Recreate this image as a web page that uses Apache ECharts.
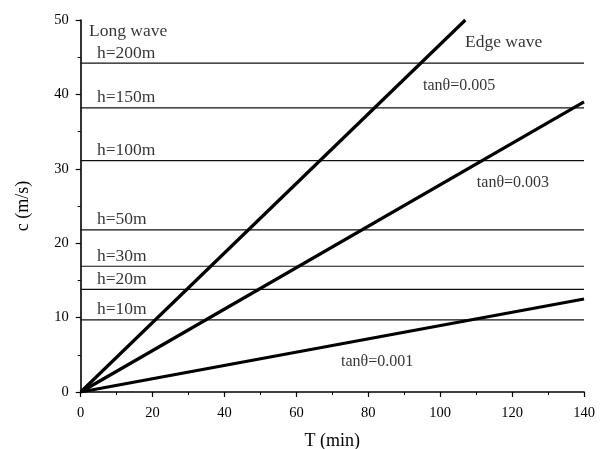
<!DOCTYPE html>
<html>
<head>
<meta charset="utf-8">
<script src="https://cdn.jsdelivr.net/npm/echarts@6/dist/echarts.min.js"></script>
<style>
  html, body { margin: 0; padding: 0; background: #fff; }
  #chart { width: 605px; height: 449px; }
</style>
</head>
<body>
<div id="chart"></div>
<script>
// Long-wave phase speed for each water depth (m/s)
const depthLabels = ['h=200m', 'h=150m', 'h=100m', 'h=50m', 'h=30m', 'h=20m', 'h=10m'];
const longWaveSpeeds = [44.2, 38.2, 31.1, 21.8, 16.9, 13.8, 9.7];

// Edge-wave speed grows linearly with period T; each line runs from the origin to its end point
const slopeLabels = ['tanθ=0.005', 'tanθ=0.003', 'tanθ=0.001'];
const edgeEndT = [107, 140, 140];
const edgeEndC = [50, 39.0, 12.5];

const T_MIN = 0, T_MAX = 140;
const FONT = 'Liberation Serif';

const series = [];

// horizontal long-wave lines
longWaveSpeeds.forEach((c, i) => {
  series.push({
    type: 'line',
    name: depthLabels[i],
    data: [[T_MIN, c], [T_MAX, c]],
    symbol: 'none',
    lineStyle: { color: '#111', width: 1.2 },
    silent: true
  });
});

// depth labels sitting just above each line
series.push({
  type: 'scatter',
  symbolSize: 0,
  silent: true,
  data: longWaveSpeeds.map((c, i) => ({ value: [4.5, c], name: depthLabels[i] })),
  label: {
    show: true,
    position: [0, 0],
    align: 'left',
    verticalAlign: 'middle',
    offset: [0, -10],
    formatter: p => p.name,
    color: '#000',
    fontFamily: FONT,
    fontSize: 17.5
  }
});

// edge-wave lines
edgeEndT.forEach((t, i) => {
  series.push({
    type: 'line',
    name: slopeLabels[i],
    data: [[0, 0], [t, edgeEndC[i]]],
    symbol: 'none',
    lineStyle: { color: '#000', width: 3.2 },
    silent: true
  });
});

// free text annotations (data coordinates)
const notes = [
  { value: [2.3, 48.5], name: 'Long wave' },
  { value: [106.9, 47.0], name: 'Edge wave' },
  { value: [95.2, 41.1], name: slopeLabels[0], small: true },
  { value: [110.2, 28.1], name: slopeLabels[1], small: true },
  { value: [72.4, 4.0], name: slopeLabels[2], small: true }
];
series.push({
  type: 'scatter',
  symbolSize: 0,
  silent: true,
  data: notes.map(n => ({
    value: n.value,
    name: n.name,
    label: { fontSize: n.small ? 16 : 17.5 }
  })),
  label: {
    show: true,
    position: [0, 0],
    align: 'left',
    verticalAlign: 'middle',
    formatter: p => p.name,
    color: '#000',
    fontFamily: FONT
  }
});

const axisCommon = {
  axisLine: { show: true, lineStyle: { color: '#000', width: 1.6 } },
  axisTick: { show: true, inside: false, length: 5, lineStyle: { color: '#000', width: 1.2 } },
  minorTick: { show: true, splitNumber: 2, length: 3, lineStyle: { color: '#000', width: 1 } },
  splitLine: { show: false },
  axisLabel: { color: '#000', fontFamily: FONT, fontSize: 14.5 }
};

const chart = echarts.init(document.getElementById('chart'), null, { renderer: 'canvas' });
chart.setOption({
  animation: false,
  backgroundColor: '#fff',
  grid: { left: 80.7, right: 21, top: 20, bottom: 57, containLabel: false, outerBoundsMode: 'none' },
  xAxis: Object.assign({}, axisCommon, {
    type: 'value',
    min: T_MIN, max: T_MAX, interval: 20,
    name: 'T (min)',
    nameLocation: 'middle',
    nameGap: 40,
    nameTextStyle: { color: '#000', fontFamily: FONT, fontSize: 18 },
    axisLabel: Object.assign({}, axisCommon.axisLabel, { margin: 14 })
  }),
  yAxis: Object.assign({}, axisCommon, {
    type: 'value',
    min: 0, max: 50, interval: 10,
    name: 'c (m/s)',
    nameLocation: 'middle',
    nameGap: 48,
    nameTextStyle: { color: '#000', fontFamily: FONT, fontSize: 18 },
    axisLabel: Object.assign({}, axisCommon.axisLabel, { margin: 12 })
  }),
  series: series
});
</script>
</body>
</html>
